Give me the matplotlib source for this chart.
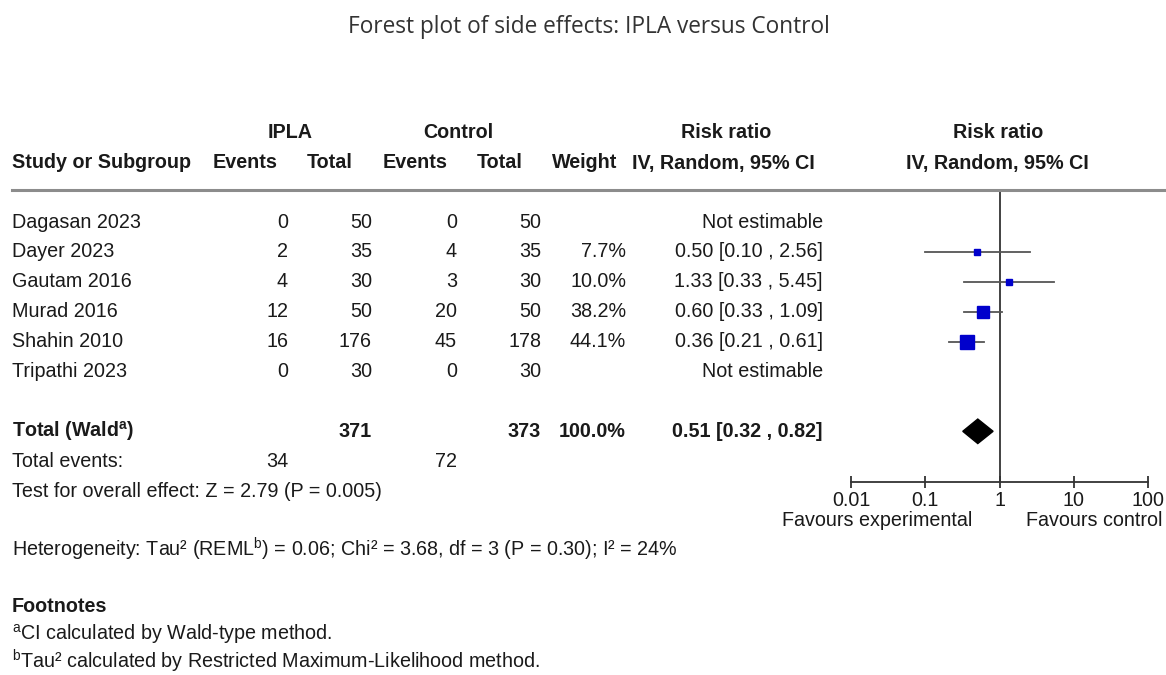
import numpy as np
import matplotlib
matplotlib.use('Agg')
import matplotlib.pyplot as plt
from matplotlib.lines import Line2D
from matplotlib.patches import Polygon

plt.rcParams['font.family'] = ['Liberation Sans', 'DejaVu Sans']
plt.rcParams['mathtext.fontset'] = 'custom'
plt.rcParams['mathtext.rm'] = 'Liberation Sans'
plt.rcParams['mathtext.bf'] = 'Liberation Sans:bold'

# data
studies = ["Dagasan 2023", "Dayer 2023", "Gautam 2016", "Murad 2016", "Shahin 2010", "Tripathi 2023"]
ipla_events = [0, 2, 4, 12, 16, 0]
ipla_total = [50, 35, 30, 50, 176, 30]
ctrl_events = [0, 4, 3, 20, 45, 0]
ctrl_total = [50, 35, 30, 50, 178, 30]
weights = [np.nan, 7.7, 10.0, 38.2, 44.1, np.nan]
rr = [np.nan, 0.50, 1.33, 0.60, 0.36, np.nan]
rr_lo = [np.nan, 0.10, 0.33, 0.33, 0.21, np.nan]
rr_hi = [np.nan, 2.56, 5.45, 1.09, 0.61, np.nan]
total_ipla, total_ctrl = 371, 373
total_events_ipla, total_events_ctrl = 34, 72
total_rr, total_lo, total_hi = 0.51, 0.32, 0.82
xticks = [0.01, 0.1, 1, 10, 100]

W, H = 1166, 675
fig = plt.figure(figsize=(W / 100, H / 100), dpi=100)

FS = 14.2
TXT = '#1a1a1a'


def t(x, y, s, ha='left', bold=False, size=FS, color=TXT, **kw):
    # x, y in pixels from top-left
    fig.text(x / W, 1 - y / H, s, ha=ha, va='center', fontsize=size,
             fontweight='bold' if bold else 'normal', color=color, **kw)


# title
t(589, 27, "Forest plot of side effects: IPLA versus Control", ha='center',
  size=16.3, color='#333333', family=['Open Sans', 'DejaVu Sans'])

# headers
t(290, 132, "IPLA", ha='center', bold=True)
t(458, 132, "Control", ha='center', bold=True)
t(726, 132, "Risk ratio", ha='center', bold=True)
t(998, 132, "Risk ratio", ha='center', bold=True)
hy = 163
t(12, hy, "Study or Subgroup", bold=True)
t(278, hy, "Events", ha='right', bold=True)
t(353, hy, "Total", ha='right', bold=True)
t(448, hy, "Events", ha='right', bold=True)
t(523, hy, "Total", ha='right', bold=True)
t(617, hy, "Weight", ha='right', bold=True)
t(815, hy, "IV, Random, 95% CI", ha='right', bold=True)
t(1089, hy, "IV, Random, 95% CI", ha='right', bold=True)

fig.add_artist(Line2D([12 / W, 1], [1 - 190 / H] * 2, color='#8c8c8c', lw=2.2))

row0, dy = 222, 29.9
for i, name in enumerate(studies):
    y = row0 + dy * i
    t(12, y, name)
    t(288, y, str(ipla_events[i]), ha='right')
    t(372, y, str(ipla_total[i]), ha='right')
    t(457, y, str(ctrl_events[i]), ha='right')
    t(541, y, str(ctrl_total[i]), ha='right')
    if np.isnan(rr[i]):
        t(823, y, "Not estimable", ha='right')
    else:
        t(626, y, f"{weights[i]:.1f}%", ha='right')
        t(823, y, f"{rr[i]:.2f} [{rr_lo[i]:.2f} , {rr_hi[i]:.2f}]", ha='right')

ty = row0 + dy * 7
t(12, ty, r"Total (Wald$^{\mathbf{a}}$)", bold=True)
t(372, ty, str(total_ipla), ha='right', bold=True)
t(541, ty, str(total_ctrl), ha='right', bold=True)
t(626, ty, "100.0%", ha='right', bold=True)
t(823, ty, f"{total_rr:.2f} [{total_lo:.2f} , {total_hi:.2f}]", ha='right', bold=True)
t(12, ty + dy, "Total events:")
t(288, ty + dy, str(total_events_ipla), ha='right')
t(457, ty + dy, str(total_events_ctrl), ha='right')
t(12, ty + 2 * dy, "Test for overall effect: Z = 2.79 (P = 0.005)")

t(12, 549, r"Heterogeneity: Tau² (REML$^{\mathrm{b}}$) = 0.06; Chi² = 3.68, df = 3 (P = 0.30); I² = 24%")
t(12, 606, "Footnotes", bold=True)
t(12, 634, r"$^{\mathrm{a}}$CI calculated by Wald-type method.")
t(12, 661, r"$^{\mathrm{b}}$Tau² calculated by Restricted Maximum-Likelihood method.")

# forest axes
x0, x1 = 851, 1148
ytop, ybot = 190, 482
ax = fig.add_axes([x0 / W, 1 - ybot / H, (x1 - x0) / W, (ybot - ytop) / H])
ax.set_xscale('log')
ax.set_xlim(0.01, 100)
ax.set_ylim((ybot - row0) / dy, (ytop - row0) / dy)
ax.patch.set_visible(False)
for s in ['top', 'left', 'right']:
    ax.spines[s].set_visible(False)
ax.spines['bottom'].set_color('#333333')
ax.spines['bottom'].set_linewidth(1.3)
ax.set_xticks(xticks)
ax.set_xticklabels(["0.01", "0.1", "1", "10", "100"])
ax.minorticks_off()
ax.tick_params(axis='x', direction='inout', length=9, width=1.3, color='#333333',
               labelsize=FS, labelcolor=TXT, pad=2)
ax.set_yticks([])
ax.axvline(1, color='#333333', lw=1.3)

for i in range(len(studies)):
    if np.isnan(rr[i]):
        continue
    ax.plot([rr_lo[i], rr_hi[i]], [i, i], color='#555555', lw=1.3, zorder=2)
    side = 2.0 * np.sqrt(weights[i]) * 0.72
    ax.plot(rr[i], i, marker='s', ms=side, color='#0000cc', mec='#0000cc', zorder=3)

ax.add_patch(Polygon([[total_lo, 7], [total_rr, 7 - 0.41], [total_hi, 7], [total_rr, 7 + 0.41]],
                     closed=True, color='black', zorder=3))

t(877, 521, "Favours experimental", ha='center')
t(1163, 521, "Favours control", ha='right')

fig.savefig("out.png", dpi=100)
